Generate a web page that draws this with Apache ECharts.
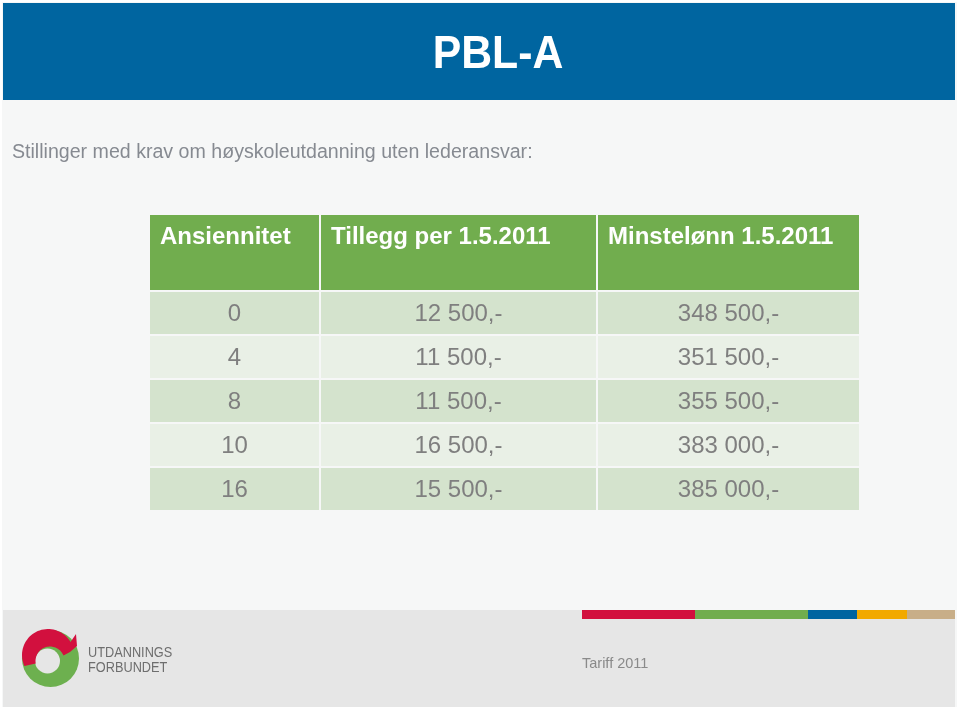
<!DOCTYPE html>
<html>
<head>
<meta charset="utf-8">
<script src="https://cdn.jsdelivr.net/npm/echarts@6/dist/echarts.min.js"></script>
<style>html,body{margin:0;padding:0;background:#fff}#c{width:960px;height:709px}</style>
</head>
<body>
<div id="c"></div>
<script>
// ---- data ----
const titleText = 'PBL-A';
const subtitleText = 'Stillinger med krav om høyskoleutdanning uten lederansvar:';
const columns = ['Ansiennitet', 'Tillegg per 1.5.2011', 'Minstelønn 1.5.2011'];
const ansiennitet = [0, 4, 8, 10, 16];
const tillegg = [12500, 11500, 11500, 16500, 15500];
const minstelonn = [348500, 351500, 355500, 383000, 385000];
const footerText = 'Tariff 2011';
const logoLines = ['UTDANNINGS', 'FORBUNDET'];

// ---- layout / style ----
const colLeft = [150, 321, 598];
const colWidth = [171, 277, 263];
const headTop = 215, headHeight = 77;
const bodyTop = 292, bodyHeight = 220;
const FONT = '"Liberation Sans", Arial, sans-serif';

function fmtMoney(n) {
  return String(n).replace(/\B(?=(\d{3})+(?!\d))/g, ' ') + ',-';
}
const colValues = [ansiennitet, tillegg, minstelonn];
const colFormat = [v => String(v), fmtMoney, fmtMoney];
const rowCats = ansiennitet.map(String);

const grids = [], xAxes = [], yAxes = [], series = [];
columns.forEach((name, c) => {
  // header grid
  grids.push({left: colLeft[c], top: headTop, width: colWidth[c], height: headHeight});
  let gi = grids.length - 1;
  xAxes.push({type: 'category', gridIndex: gi, data: [name], show: false});
  yAxes.push({type: 'category', gridIndex: gi, data: ['h'], show: false});
  series.push({
    type: 'custom', xAxisIndex: gi, yAxisIndex: gi, silent: true,
    data: [[0, 0, name]],
    renderItem: (params, api) => {
      const p = api.coord([api.value(0), api.value(1)]);
      const s = api.size([1, 1]);
      const x = p[0] - s[0] / 2, y = p[1] - s[1] / 2;
      return {type: 'group', children: [
        {type: 'rect', shape: {x: x, y: y, width: s[0] - 2, height: s[1] - 2}, style: {fill: '#71ad4e'}},
        {type: 'text', style: {x: x + 10, y: y + 22, text: name, fill: '#ffffff',
          font: 'bold 24px ' + FONT, align: 'left', verticalAlign: 'middle',
          textAlign: 'left', textVerticalAlign: 'middle'}}
      ]};
    }
  });
  // body grid
  grids.push({left: colLeft[c], top: bodyTop, width: colWidth[c], height: bodyHeight});
  gi = grids.length - 1;
  xAxes.push({type: 'category', gridIndex: gi, data: [name], show: false});
  yAxes.push({type: 'category', gridIndex: gi, data: rowCats, inverse: true, show: false});
  series.push({
    type: 'custom', xAxisIndex: gi, yAxisIndex: gi, silent: true,
    data: colValues[c].map((v, r) => [0, r, v]),
    renderItem: (params, api) => {
      const r = api.value(1);
      const p = api.coord([api.value(0), r]);
      const s = api.size([1, 1]);
      const x = p[0] - s[0] / 2, y = p[1] - s[1] / 2;
      return {type: 'group', children: [
        {type: 'rect', shape: {x: x, y: y, width: s[0] - 2, height: s[1] - 2},
          style: {fill: r % 2 === 0 ? '#d4e3cd' : '#e9f0e6'}},
        {type: 'text', style: {x: x + (s[0] - 2) / 2, y: y + (s[1] - 2) / 2 + 1,
          text: colFormat[c](api.value(2)), fill: '#7f7f7f',
          font: '24px ' + FONT, align: 'center', verticalAlign: 'middle',
          textAlign: 'center', textVerticalAlign: 'middle'}}
      ]};
    }
  });
});

// ---- logo geometry (decoration) ----
function arcPts(cx, cy, r, a0, a1, n) {
  const pts = [];
  for (let i = 0; i <= n; i++) {
    const a = (a0 + (a1 - a0) * i / n) * Math.PI / 180;
    pts.push([cx + r * Math.cos(a), cy + r * Math.sin(a)]);
  }
  return pts;
}
const redPts = arcPts(48, 655, 26, 155, 330, 40)
  .concat([[76, 634], [77, 646], [70, 652]])
  .concat(arcPts(50, 661, 14.5, -22, -190, 40));

// ---- decorative slide elements ----
const barColors = ['#d2103e', '#71ad4e', '#0064a0', '#f2a900', '#c8ae88'];
const barEdges = [582, 695, 808, 857, 907, 955];
const graphic = [
  {type: 'rect', z: -10, shape: {x: 2, y: 2, width: 955, height: 705}, style: {fill: '#f6f7f7'}},
  {type: 'rect', z: -9, shape: {x: 3, y: 3, width: 952, height: 97}, style: {fill: '#0065a0'}},
  {type: 'text', x: 498, y: 55, scaleX: 0.93, style: {x: 0, y: 0, text: titleText, fill: '#ffffff',
    font: 'bold 46px ' + FONT, align: 'center', verticalAlign: 'middle', textAlign: 'center', textVerticalAlign: 'middle'}},
  {type: 'text', style: {x: 12, y: 153, text: subtitleText, fill: '#868a91',
    font: '19.6px ' + FONT, align: 'left', verticalAlign: 'middle', textAlign: 'left', textVerticalAlign: 'middle'}},
  {type: 'rect', z: -9, shape: {x: 3, y: 610, width: 952, height: 97}, style: {fill: '#e6e6e6'}},
  {type: 'text', style: {x: 582, y: 664, text: footerText, fill: '#8a8a8a',
    font: '14.5px ' + FONT, align: 'left', verticalAlign: 'middle', textAlign: 'left', textVerticalAlign: 'middle'}},
  // logo
  {type: 'circle', shape: {cx: 50.5, cy: 658.5, r: 28.5}, style: {fill: '#6db04f'}},
  {type: 'circle', shape: {cx: 47.5, cy: 661, r: 12.5}, style: {fill: '#e6e6e6'}},
  {type: 'polygon', shape: {points: redPts}, style: {fill: '#d2103e'}},
  {type: 'text', x: 88, y: 652.5, scaleX: 0.85, style: {x: 0, y: 0, text: logoLines[0], fill: '#6e6e6e',
    font: '15px ' + FONT, align: 'left', verticalAlign: 'middle', textAlign: 'left', textVerticalAlign: 'middle'}},
  {type: 'text', x: 88, y: 667.5, scaleX: 0.85, style: {x: 0, y: 0, text: logoLines[1], fill: '#6e6e6e',
    font: '15px ' + FONT, align: 'left', verticalAlign: 'middle', textAlign: 'left', textVerticalAlign: 'middle'}}
];
barColors.forEach((col, i) => {
  graphic.push({type: 'rect', shape: {x: barEdges[i], y: 610, width: barEdges[i + 1] - barEdges[i], height: 9}, style: {fill: col}});
});

const chart = echarts.init(document.getElementById('c'), null, {renderer: 'canvas'});
chart.setOption({
  backgroundColor: '#ffffff',
  animation: false,
  grid: grids,
  xAxis: xAxes,
  yAxis: yAxes,
  series: series,
  graphic: graphic
});
</script>
</body>
</html>
